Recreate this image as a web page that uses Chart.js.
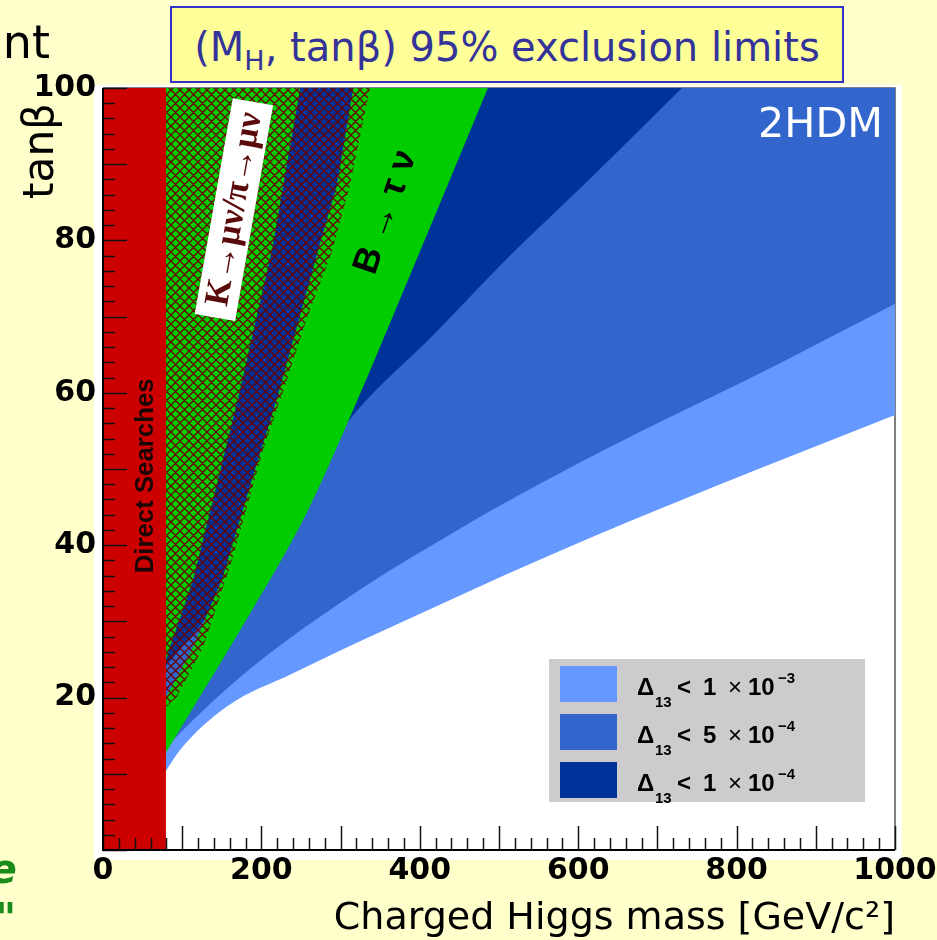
<!DOCTYPE html>
<html>
<head>
<meta charset="utf-8">
<script src="https://cdn.jsdelivr.net/npm/chart.js@4.4.1/dist/chart.umd.min.js"></script>
<style>
html,body{margin:0;padding:0;background:#FFFFCC;width:937px;height:940px;overflow:hidden;}
#wrap{position:relative;width:937px;height:940px;}
canvas{position:absolute;left:0;top:0;}
#title{position:absolute;left:170px;top:6px;width:674px;height:77px;box-sizing:border-box;border:2px solid #3333CC;background:#FFFF99;color:#333399;font-family:"DejaVu Sans";font-size:40px;line-height:73px;text-align:center;white-space:nowrap;}
#title .in{position:relative;top:3px;}
#title .sub{font-size:27px;position:relative;top:9px;line-height:0;}
.frag{position:absolute;white-space:nowrap;font-family:"DejaVu Sans";}
</style>
</head>
<body>
<div id="wrap">
<canvas id="c" width="937" height="940"></canvas>
<div id="title"><span class="in">(M<span class="sub">H</span>, tanβ) 95% exclusion limits</span></div>
<div class="frag" style="right:887px;top:12px;font-size:46px;line-height:60px;color:#000;">nt</div>
<div class="frag" style="right:920px;top:844px;font-size:40px;line-height:50px;color:#1a8c1a;font-style:italic;font-weight:bold;">e</div>
<div class="frag" style="right:921px;top:893px;font-size:40px;line-height:50px;color:#1a8c1a;font-style:italic;font-weight:bold;">"</div>
</div>
<script>
// ---------- axis structure ----------
const xTicks = [0, 200, 400, 600, 800, 1000];
const yTicks = [20, 40, 60, 80, 100];
const massRange = [0, 1000];
const tanbRange = [0, 100];

// ---------- regions (charged Higgs mass [GeV], tan beta) ----------
const directSearchMass = 78.5;   // direct search limit
// lower edge of Delta13 < 1e-3 region
const lightEdge = [[78.5,10.2],[97,13.1],[156,18.8],[240,23.2],[350,28.6],[560,38.5],[770,47.6],[1000,57.1]];
// lower edge of Delta13 < 5e-4 region
const mediumEdge = [[78.5,13.3],[114,17.1],[198,24.8],[350,35.9],[425,40.6],[489,44.5],[640,52.9],[813,61.7],[1000,71.7]];
// lower edge of Delta13 < 1e-4 region
const darkEdge = [[78.5,24],[150,33],[230,44.5],[316,57.1],[417,67.6],[510,77.6],[611,87.7],[731,100]];
// right edge of B -> tau nu exclusion
const btaunuEdge = [[78.5,12.6],[110,18],[186,31.1],[257,44.2],[314,57.3],[400,78.5],[486,100]];
// allowed band inside B -> tau nu
const bandLeft = [[78.5,24.6],[84.6,26.6],[113.6,35.4],[145.2,48.6],[173,60.4],[214,79.1],[249,100]];
const bandRight = [[78.5,19.9],[84.6,21],[113.6,26.6],[150,35.4],[188,48.6],[221,59.7],[271.5,78.7],[295.5,87.3],[316,100]];
// right edge of K -> mu nu / pi -> mu nu exclusion (hatched)
const kmunuEdge = [[78.5,18.7],[93.4,20.1],[126.3,26.6],[161,37.4],[202,52.5],[232.3,61.7],[257.6,69.8],[289.1,78.5],[311.9,87.3],[337,100]];

// legend
const legendCoef = ['1', '5', '1'];
const legendExp = ['\u22123', '\u22124', '\u22124'];

// ---------- styles ----------
const RED = '#CC0000', GREEN = '#00CC00', LIGHT = '#6699FF', MED = '#3366CC', DARK = '#003399';
const HATCH_COLOR = '#6a0000';

const TOP = tanbRange[1], RIGHT = massRange[1];
const pts = a => a.map(([x, y]) => ({x, y}));

const redPoly = pts([[massRange[0], tanbRange[0]], [directSearchMass, tanbRange[0]], [directSearchMass, TOP], [massRange[0], TOP]]);
// band right edge continued along the top of the frame to the B->tau nu edge
const bandRightTop = pts([...bandRight, btaunuEdge[btaunuEdge.length - 1]]);

function makeHatch(s, color, w) {
  const c = document.createElement('canvas');
  c.width = s; c.height = s;
  const g = c.getContext('2d');
  g.strokeStyle = color; g.lineWidth = w;
  g.beginPath();
  for (let k = -1; k <= 1; k++) {
    g.moveTo(k * s, 0); g.lineTo(k * s + s, s);
    g.moveTo(k * s, s); g.lineTo(k * s + s, 0);
  }
  g.stroke();
  return g.createPattern(c, 'repeat');
}

const canvas = document.getElementById('c');
const ctx0 = canvas.getContext('2d');
const hatch = makeHatch(9, HATCH_COLOR, 1.3);

function fitFont(ctx, text, tmpl, width) {
  ctx.save(); ctx.font = tmpl(100);
  const w = ctx.measureText(text).width; ctx.restore();
  return tmpl(100 * width / w);
}
function rotText(ctx, text, x, y, deg, font, color, align) {
  ctx.save(); ctx.translate(x, y); ctx.rotate(deg * Math.PI / 180);
  ctx.font = font; ctx.fillStyle = color; ctx.textAlign = align || 'center'; ctx.textBaseline = 'middle';
  ctx.fillText(text, 0, 0); ctx.restore();
}

const base = {borderWidth: 0, pointRadius: 0, pointHoverRadius: 0, tension: 0};
const datasets = [
  Object.assign({}, base, {label: 'Direct Searches', data: redPoly, backgroundColor: RED, fill: 'shape', borderWidth: 1.5, borderColor: RED}),
  Object.assign({}, base, {label: 'K\u2192\u03bc\u03bd/\u03c0\u2192\u03bc\u03bd', data: pts(kmunuEdge), backgroundColor: hatch, fill: 'end'}),
  Object.assign({}, base, {label: 'B\u2192\u03c4\u03bd (left of band)', data: pts(bandLeft), backgroundColor: GREEN, fill: 'end'}),
  Object.assign({}, base, {label: 'B\u2192\u03c4\u03bd', data: pts(btaunuEdge), backgroundColor: GREEN, fill: 4, cubicInterpolationMode: 'monotone'}),
  Object.assign({}, base, {label: 'band edge', data: bandRightTop, fill: false}),
  Object.assign({}, base, {label: '\u039413 < 1e-4', data: pts(darkEdge), backgroundColor: DARK, fill: 'end', cubicInterpolationMode: 'monotone'}),
  Object.assign({}, base, {label: '\u039413 < 5e-4', data: pts(mediumEdge), backgroundColor: MED, fill: 'end', cubicInterpolationMode: 'monotone'}),
  Object.assign({}, base, {label: '\u039413 < 1e-3', data: pts(lightEdge), backgroundColor: LIGHT, fill: 'end', cubicInterpolationMode: 'monotone'})
];
const legendColors = [LIGHT, MED, DARK];

const decor = {
  id: 'decor',
  beforeDraw(chart) {
    const {ctx, chartArea: a} = chart;
    ctx.save();
    ctx.fillStyle = '#FFFFFF';
    ctx.fillRect(a.left - 9, a.top - 3, a.right - a.left + 16, a.bottom - a.top + 13);
    ctx.restore();
  },
  beforeDatasetsDraw(chart) {
    const {ctx, chartArea: a} = chart;
    ctx.save();
    ctx.strokeStyle = '#555'; ctx.lineWidth = 1.5;
    ctx.beginPath();
    ctx.moveTo(a.left, a.top); ctx.lineTo(a.right, a.top); ctx.lineTo(a.right, a.bottom);
    ctx.stroke();
    ctx.restore();
  },
  afterDatasetsDraw(chart) {
    const {ctx, chartArea: a} = chart;
    const xs = chart.scales.x, ys = chart.scales.y;
    ctx.save();
    // inner tick marks
    ctx.strokeStyle = '#111'; ctx.lineWidth = 1.5;
    ctx.beginPath();
    for (let v = massRange[0]; v <= massRange[1]; v += 20) {
      const px = Math.round(xs.getPixelForValue(v)) + 0.5;
      const len = v % 100 === 0 ? 24 : 12;
      ctx.moveTo(px, a.bottom); ctx.lineTo(px, a.bottom - len);
    }
    for (let v = tanbRange[0]; v <= tanbRange[1]; v += 2) {
      const py = Math.round(ys.getPixelForValue(v)) + 0.5;
      const len = v % 10 === 0 ? 24 : 12;
      ctx.moveTo(a.left, py); ctx.lineTo(a.left + len, py);
    }
    ctx.stroke();
    // axis lines
    ctx.strokeStyle = '#000'; ctx.lineWidth = 2;
    ctx.beginPath();
    ctx.moveTo(a.left, a.top); ctx.lineTo(a.left, a.bottom); ctx.lineTo(a.right, a.bottom);
    ctx.stroke();

    // y axis title (top aligned, left of the axis)
    rotText(ctx, 'tan\u03b2', 42, a.top + 15, -90,
      fitFont(ctx, 'tan\u03b2', s => `${s}px "DejaVu Sans"`, 96), '#000', 'right');

    // region labels
    rotText(ctx, 'Direct Searches', xs.getPixelForValue(54.3), ys.getPixelForValue(49.1), -90,
      fitFont(ctx, 'Direct Searches', s => `bold ${s}px "Liberation Sans"`, 195), '#1a0505');

    const kText = 'K\u2192\u03bc\u03bd/\u03c0\u2192\u03bc\u03bd';
    ctx.save();
    ctx.translate(xs.getPixelForValue(165.4), ys.getPixelForValue(84.1));
    ctx.rotate(-80 * Math.PI / 180);
    ctx.fillStyle = '#FFFFFF';
    ctx.fillRect(-110, -20.5, 219, 41);
    ctx.font = fitFont(ctx, kText, s => `bold ${s}px "Liberation Serif"`, 196);
    ctx.fillStyle = '#5a0a0a'; ctx.textAlign = 'center'; ctx.textBaseline = 'middle';
    ctx.fillText(kText, 0, 1);
    ctx.restore();

    const bText = 'B \u2192 \u03c4 \u03bd';
    rotText(ctx, bText, xs.getPixelForValue(357.3), ys.getPixelForValue(83.7), -71,
      fitFont(ctx, bText, s => `bold ${s}px "Liberation Sans"`, 128), '#000');

    ctx.font = fitFont(ctx, '2HDM', s => `${s}px "DejaVu Sans"`, 125);
    ctx.fillStyle = '#FFFFFF'; ctx.textAlign = 'right'; ctx.textBaseline = 'alphabetic';
    ctx.fillText('2HDM', xs.getPixelForValue(984.8), ys.getPixelForValue(93.6));

    // legend
    const bw = 316, bh = 143;
    const bx = a.right - 30 - bw, by = a.bottom - 48 - bh;
    ctx.fillStyle = '#CCCCCC';
    ctx.fillRect(bx, by, bw, bh);
    const big = 'bold 24px "Liberation Sans"', small = 'bold 15px "Liberation Sans"';
    for (let i = 0; i < legendColors.length; i++) {
      const sy = by + 7 + i * 48;
      ctx.fillStyle = legendColors[i];
      ctx.fillRect(bx + 11, sy, 57, 36);
      const x0 = bx + 88, bl = sy + 29;
      ctx.fillStyle = '#000'; ctx.textAlign = 'left'; ctx.textBaseline = 'alphabetic';
      ctx.font = big; ctx.fillText('\u0394', x0, bl);
      ctx.font = small; ctx.fillText('13', x0 + 18, bl + 12);
      ctx.font = big; ctx.fillText('<', x0 + 40, bl);
      ctx.fillText(legendCoef[i], x0 + 66, bl);
      ctx.fillText('10', x0 + 111, bl);
      ctx.font = '24px "Liberation Sans"'; ctx.fillText('\u00d7', x0 + 91, bl);
      ctx.font = small; ctx.fillText(legendExp[i], x0 + 141, bl - 12);
    }
    ctx.restore();
  }
};

new Chart(ctx0, {
  type: 'line',
  data: {datasets},
  options: {
    responsive: false, animation: false, events: [], devicePixelRatio: 1,
    layout: {padding: {left: 0, top: 88, right: 42, bottom: 0}},
    plugins: {legend: {display: false}, tooltip: {enabled: false}, title: {display: false}},
    elements: {point: {radius: 0}},
    scales: {
      x: {
        type: 'linear', min: massRange[0], max: massRange[1],
        grid: {display: false, drawTicks: false}, border: {display: false},
        afterBuildTicks: s => { s.ticks = xTicks.map(v => ({value: v})); },
        afterFit: s => { s.height = 90; s.paddingLeft = 0; s.paddingRight = 0; },
        ticks: {color: '#000', autoSkip: false, maxRotation: 0, padding: 6, callback: v => String(v),
          font: {family: 'DejaVu Sans', weight: 'bold', size: 30, lineHeight: 1}},
        title: {display: true, text: 'Charged Higgs mass [GeV/c\u00b2]', align: 'end', color: '#000',
          font: {family: 'DejaVu Sans', size: 38, lineHeight: 1.1}, padding: {top: 0, bottom: 0}}
      },
      y: {
        type: 'linear', min: tanbRange[0], max: tanbRange[1],
        grid: {display: false, drawTicks: false}, border: {display: false},
        afterBuildTicks: s => { s.ticks = yTicks.map(v => ({value: v})); },
        afterFit: s => { s.width = 103; s.paddingTop = 0; s.paddingBottom = 0; },
        ticks: {color: '#000', autoSkip: false, padding: 7, callback: v => String(v),
          font: {family: 'DejaVu Sans', weight: 'bold', size: 30, lineHeight: 1}},
        title: {display: false}
      }
    }
  },
  plugins: [decor]
});
</script>
</body>
</html>
